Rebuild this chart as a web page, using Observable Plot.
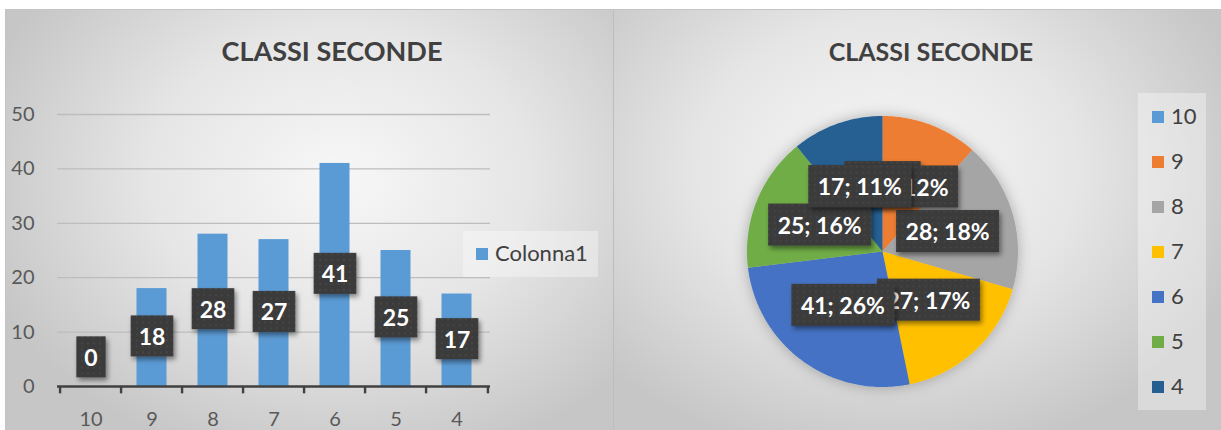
<!DOCTYPE html>
<html>
<head>
<meta charset="utf-8">
<script src="https://cdn.jsdelivr.net/npm/d3@7"></script>
<script src="https://cdn.jsdelivr.net/npm/@observablehq/plot@0.6"></script>
<style>
  html, body { margin: 0; padding: 0; background: #ffffff; }
  body { width: 1221px; height: 430px; position: relative; overflow: hidden; font-family: Lato, "Open Sans", sans-serif; }
  .panel { position: absolute; top: 9px; height: 421px; box-sizing: border-box; }
  #leftPanel { left: 5px; width: 608px; border-top: 1px solid #c4c4c4; border-left: 1px solid #c4c4c4;
    background: radial-gradient(ellipse 62% 70% at 55% 40%, #f7f7f7 0%, #e6e6e6 50%, #c6c6c6 100%); }
  #rightPanel { left: 613px; width: 608px; border-top: 1px solid #c4c4c4; border-left: 1px solid #bdbdbd;
    background: radial-gradient(ellipse 62% 70% at 45% 38%, #f7f7f7 0%, #e6e6e6 50%, #c6c6c6 100%); }
  .title { position: absolute; font-weight: 700; color: #404040; text-align: center; white-space: nowrap; }
  .legendBox { position: absolute; background: rgba(255,255,255,0.35); }
  .legItem { position: absolute; color: #404040; font-size: 22px; line-height: 22px; white-space: nowrap; }
  .legItem span.sw { position: absolute; width: 12px; height: 12px; }
  .abs { position: absolute; }
</style>
</head>
<body>
<div id="leftPanel" class="panel"></div>
<div id="rightPanel" class="panel"></div>
<div id="barChart" class="abs" style="left:0;top:0;"></div>
<div id="pieChart" class="abs" style="left:731.5px;top:100.5px;"></div>
<div id="overlay"></div>
<script>
// ---------- data ----------
const chartTitle = "CLASSI SECONDE";
const seriesName = "Colonna1";
const categories = ["10", "9", "8", "7", "6", "5", "4"];
const counts = [0, 18, 28, 27, 41, 25, 17];
const sliceColors = ["#5B9BD5", "#ED7D31", "#A5A5A5", "#FFC000", "#4472C4", "#70AD47", "#255E91"];
const yTicks = [0, 10, 20, 30, 40, 50];

const barColor = "#5B9BD5";
const ns = "http://www.w3.org/2000/svg";

function addDefs(svg, pid, fid) {
  const defs = document.createElementNS(ns, "defs");
  defs.innerHTML = `
    <pattern id="${pid}" width="6" height="6" patternUnits="userSpaceOnUse">
      <rect width="6" height="6" fill="#3b3b3b"></rect>
      <circle cx="3" cy="3" r="0.8" fill="#4f4f4f"></circle>
    </pattern>
    <filter id="${fid}" x="-30%" y="-30%" width="160%" height="170%">
      <feDropShadow dx="2" dy="3" stdDeviation="2.5" flood-color="#000" flood-opacity="0.45"></feDropShadow>
    </filter>
    <filter id="${fid}pie" x="-20%" y="-20%" width="140%" height="140%">
      <feDropShadow dx="0" dy="0" stdDeviation="7" flood-color="#000" flood-opacity="0.28"></feDropShadow>
    </filter>`;
  svg.insertBefore(defs, svg.firstChild);
}

function boxLabels(svg, padX, h, pid, fid) {
  svg.querySelectorAll('g[aria-label="text"] text').forEach(t => {
    const b = t.getBBox();
    const r = document.createElementNS(ns, "rect");
    r.setAttribute("x", b.x - padX);
    r.setAttribute("y", b.y + b.height / 2 - h / 2);
    r.setAttribute("width", b.width + 2 * padX);
    r.setAttribute("height", h);
    r.setAttribute("fill", `url(#${pid})`);
    r.setAttribute("filter", `url(#${fid})`);
    const tr = t.getAttribute("transform");
    if (tr) r.setAttribute("transform", tr);
    t.parentNode.insertBefore(r, t);
  });
}

// ---------- bar chart ----------
const barData = categories.map((c, i) => ({cat: c, value: counts[i]}));
const W = 610, ML = 57, MR = 120;
const step = (W - ML - MR) / categories.length;

const bar = Plot.plot({
  width: W, height: 430,
  marginLeft: ML, marginRight: MR, marginTop: 114, marginBottom: 44,
  style: {background: "transparent", fontFamily: "Lato, 'Open Sans', sans-serif", fontSize: "20px", color: "#595959", overflow: "visible"},
  x: {domain: categories, padding: 0, label: null, tickSize: 0, tickPadding: 25},
  y: {domain: [0, 50], ticks: yTicks, label: null, tickSize: 0, tickPadding: 23},
  marks: [
    Plot.ruleY(yTicks.filter(d => d > 0), {stroke: "#bdbdbd", strokeWidth: 1.3}),
    Plot.barY(barData, {x: "cat", y: "value", fill: barColor, insetLeft: 15.5, insetRight: 15.5}),
    Plot.ruleY([0], {stroke: "#404040", strokeWidth: 2.4}),
    // category boundary ticks (left edge of every band, plus right edge of the last)
    Plot.ruleX(categories, {x: d => d, y1: 0, y2: -1.35, dx: -step / 2, stroke: "#404040", strokeWidth: 2.4}),
    Plot.ruleX(categories.slice(-1), {x: d => d, y1: 0, y2: -1.35, dx: step / 2, stroke: "#404040", strokeWidth: 2.4}),
    Plot.text(barData, {x: "cat", y: d => Math.max(d.value / 2, 5.15), text: d => String(d.value),
      fill: "white", fontWeight: 700, fontSize: 23})
  ]
});
document.getElementById("barChart").appendChild(bar);
addDefs(bar, "dotsA", "shA");
boxLabels(bar, 8, 41, "dotsA", "shA");

// ---------- pie chart ----------
const total = d3.sum(counts);
const pieRows = [];
const pieLabels = [];
let acc = 0;
categories.forEach((c, i) => {
  const a0 = acc / total * 2 * Math.PI;
  acc += counts[i];
  const a1 = acc / total * 2 * Math.PI;
  if (counts[i] > 0) {
    pieRows.push({cat: c, x: 0, y: 0});
    const n = Math.max(2, Math.ceil((a1 - a0) / (Math.PI / 180)));
    for (let k = 0; k <= n; k++) {
      const a = a0 + (a1 - a0) * k / n;
      pieRows.push({cat: c, x: Math.sin(a), y: Math.cos(a)});
    }
  }
  const am = (a0 + a1) / 2;
  pieLabels.push({cat: c, x: 0.5 * Math.sin(am), y: 0.5 * Math.cos(am),
    label: `${counts[i]}; ${Math.round(counts[i] / total * 100)}%`});
});

const pie = Plot.plot({
  width: 300, height: 300,
  marginLeft: 14.5, marginRight: 14.5, marginTop: 14.5, marginBottom: 14.5,
  style: {background: "transparent", fontFamily: "Lato, 'Open Sans', sans-serif", overflow: "visible"},
  x: {domain: [-1, 1], axis: null},
  y: {domain: [-1, 1], axis: null},
  color: {domain: categories, range: sliceColors},
  marks: [
    Plot.line(pieRows, {x: "x", y: "y", z: "cat", fill: "cat", stroke: "none", curve: "linear-closed"}),
    Plot.text(pieLabels, {x: "x", y: "y", text: "label", fill: "white", fontWeight: 700, fontSize: 23})
  ]
});
document.getElementById("pieChart").appendChild(pie);
addDefs(pie, "dotsB", "shB");
const pieG = pie.querySelector('g[aria-label="line"]');
if (pieG) pieG.setAttribute("filter", "url(#shBpie)");
boxLabels(pie, 9.5, 42, "dotsB", "shB");

// ---------- titles & legends (HTML) ----------
const ov = document.getElementById("overlay");
function addTitle(cx, cy, size) {
  const d = document.createElement("div");
  d.className = "title";
  d.textContent = chartTitle;
  d.style.fontSize = size + "px";
  d.style.left = (cx - 200) + "px";
  d.style.width = "400px";
  d.style.top = (cy - size * 0.62) + "px";
  d.style.lineHeight = (size * 1.2) + "px";
  ov.appendChild(d);
}
addTitle(332, 52, 27);
addTitle(931, 51, 25);

function legendItem(x, cy, color, text) {
  const d = document.createElement("div");
  d.className = "legItem";
  d.style.left = x + "px";
  d.style.top = (cy - 12) + "px";
  d.style.paddingLeft = "19px";
  d.innerHTML = `<span class="sw" style="left:0;top:6px;background:${color}"></span>${text}`;
  ov.appendChild(d);
}
const lb1 = document.createElement("div");
lb1.className = "legendBox";
Object.assign(lb1.style, {left: "463px", top: "231px", width: "135px", height: "46px"});
ov.appendChild(lb1);
legendItem(476, 254, barColor, seriesName);

const lb2 = document.createElement("div");
lb2.className = "legendBox";
Object.assign(lb2.style, {left: "1138px", top: "93px", width: "68px", height: "317px"});
ov.appendChild(lb2);
categories.forEach((c, i) => legendItem(1152, 117 + i * 45, sliceColors[i], c));
</script>
</body>
</html>
